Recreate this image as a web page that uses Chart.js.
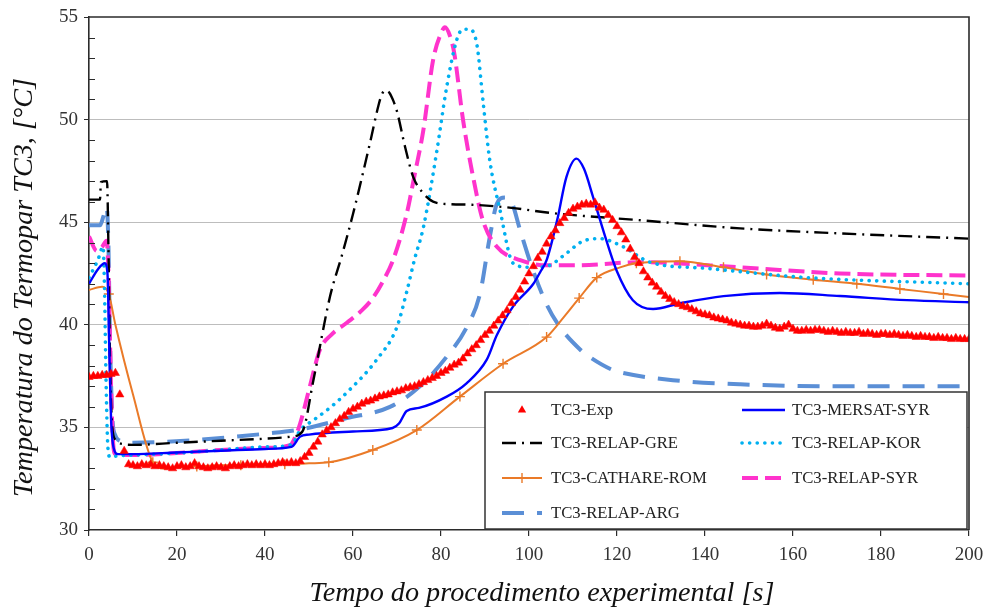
<!DOCTYPE html>
<html>
<head>
<meta charset="utf-8">
<script src="https://cdn.jsdelivr.net/npm/chart.js@4.4.1/dist/chart.umd.min.js"></script>
<style>
  html, body { margin: 0; padding: 0; background: #ffffff; }
  #wrap { width: 987px; height: 610px; position: relative; }
</style>
</head>
<body>
<div id="wrap"><canvas id="chart" width="987" height="610"></canvas></div>
<script>
// ---- Axis text ----
const xTitle = 'Tempo do procedimento experimental [s]';
const yTitle = 'Temperatura do Termopar TC3, [°C]';
const xTicks = [0, 20, 40, 60, 80, 100, 120, 140, 160, 180, 200];
const yTicks = [30, 35, 40, 45, 50, 55];

// ---- Series names ----
const seriesNames = ['TC3-Exp', 'TC3-MERSAT-SYR', 'TC3-RELAP-GRE', 'TC3-RELAP-KOR',
                     'TC3-CATHARE-ROM', 'TC3-RELAP-SYR', 'TC3-RELAP-ARG'];

// ---- Experimental thermocouple, sampled every second from t = 0 s ----
const expStep = 1;
const expTemp = [
  37.45, 37.5, 37.5, 37.55, 37.55, 37.6, 37.65, 36.6, 33.85, 33.2,
  33.15, 33.1, 33.2, 33.15, 33.2, 33.1, 33.15, 33.1, 33.05, 33.0,
  33.1, 33.15, 33.05, 33.1, 33.25, 33.1, 33.05, 33.0, 33.05, 33.1,
  33.05, 33.0, 33.1, 33.15, 33.1, 33.15, 33.2, 33.15, 33.2, 33.15,
  33.2, 33.15, 33.2, 33.25, 33.3, 33.25, 33.3, 33.25, 33.35, 33.55,
  33.75, 34.05, 34.3, 34.65, 34.85, 35.0, 35.2, 35.4, 35.55, 35.75,
  35.9, 36.0, 36.15, 36.25, 36.3, 36.4, 36.5, 36.55, 36.6, 36.7,
  36.75, 36.8, 36.9, 36.95, 37.0, 37.1, 37.2, 37.3, 37.4, 37.5,
  37.65, 37.75, 37.9, 38.05, 38.15, 38.35, 38.6, 38.8, 39.0, 39.25,
  39.5, 39.7, 39.95, 40.2, 40.45, 40.7, 41.05, 41.35, 41.7, 42.1,
  42.5, 42.85, 43.25, 43.55, 43.95, 44.3, 44.6, 44.95, 45.2, 45.45,
  45.65, 45.75, 45.85, 45.9, 45.85, 45.95, 45.7, 45.6, 45.35, 45.1,
  44.8, 44.5, 44.15, 43.7, 43.3, 43.0, 42.6, 42.3, 42.05, 41.85,
  41.6, 41.4, 41.25, 41.1, 41.0, 40.9, 40.85, 40.75, 40.65, 40.55,
  40.5, 40.45, 40.35, 40.3, 40.25, 40.2, 40.1, 40.05, 40.0, 39.95,
  39.95, 39.9, 39.9, 39.95, 40.05, 39.95, 39.85, 39.8, 39.9, 40.0,
  39.8, 39.7, 39.7, 39.75, 39.7, 39.75, 39.75, 39.7, 39.65, 39.7,
  39.65, 39.6, 39.65, 39.6, 39.6, 39.65, 39.55, 39.6, 39.55, 39.5,
  39.55, 39.55, 39.5, 39.55, 39.5, 39.45, 39.5, 39.45, 39.4, 39.45,
  39.4, 39.4, 39.35, 39.4, 39.35, 39.35, 39.3, 39.35, 39.3, 39.3,
  39.3
];

// ---- MERSAT (Syria) ----
const mersatTime = [0, 2, 3.6, 4.2, 4.6, 5.0, 5.6, 6.6, 10, 20, 30, 40, 46, 48, 50, 60, 69,
  70.5, 72.2, 75, 81.3, 85.8, 90.4, 92.7, 96.4, 101, 102.5, 104, 106.4, 108.5, 110.8, 112.5,
  114.6, 117.6, 119.9, 123.6, 128.2, 134.3, 144.2, 157, 170.7, 185.9, 200];
const mersatTemp = [42.0, 42.7, 43.0, 42.5, 39.0, 35.5, 34.0, 33.7, 33.7, 33.78, 33.86, 33.95, 34.05, 34.55, 34.65, 34.8, 34.97,
  35.2, 35.8, 35.95, 36.5, 37.15, 38.3, 39.5, 40.9, 42.0, 42.55, 43.15, 45.1, 47.2, 48.1, 47.6,
  46.2, 44.1, 42.65, 41.2, 40.77, 41.05, 41.4, 41.55, 41.4, 41.2, 41.1];

// ---- RELAP (Greece) ----
const greTime = [0, 2.5, 2.7, 4.1, 4.4, 4.8, 5.3, 6, 8, 10, 20, 30, 40, 46, 48.5, 51, 54.8, 57.5,
  60, 63.9, 65.8, 66.6, 67.4, 68.3, 69.2, 70, 71.8, 73.7, 76, 78.2, 82, 87, 96, 105, 125, 148, 171, 200];
const greTemp = [46.1, 46.1, 46.95, 47.0, 44.0, 38.0, 35.0, 34.4, 34.18, 34.15, 34.25, 34.35, 34.45, 34.55, 34.8, 37.3, 41.4, 43.4,
  45.4, 48.9, 50.7, 51.25, 51.42, 51.3, 50.9, 50.4, 48.7, 47.2, 46.4, 46.0, 45.88, 45.85, 45.7, 45.45, 45.1, 44.7, 44.45, 44.2];

// ---- RELAP (Korea) ----
const korTime = [0, 2, 3.2, 3.5, 3.9, 4.3, 4.8, 6, 10, 20, 30, 40, 46, 48, 51, 55, 58.6, 65.4,
  70, 72.2, 74, 76, 79, 81.3, 83.6, 85, 86.5, 88.2, 89.6, 91.1, 93.4, 96.4, 100.2, 104,
  108.6, 112, 116, 121.4, 127.5, 140.4, 163.2, 200];
const korTemp = [42.3, 43.15, 43.8, 42.0, 37.0, 34.0, 33.55, 33.6, 33.65, 33.75, 33.9, 34.05, 34.15, 34.87, 35.35, 36.0, 36.7, 38.3,
  39.9, 41.6, 43.2, 44.75, 48.4, 51.6, 53.9, 54.4, 54.4, 53.6, 50.8, 48.0, 45.6, 43.0, 42.8, 42.85,
  43.5, 44.05, 44.2, 43.8, 43.05, 42.75, 42.3, 42.0];

// ---- CATHARE (Romania) ----
const romTime = [0, 3, 4.5, 6, 10, 14.5, 17, 20, 24.5, 30, 34.5, 40, 44.5, 50, 54.5, 64.5, 74.5,
  84.3, 94.1, 104, 108, 111.4, 115.4, 120.7, 124.4, 134.3, 144.2, 154, 164.6, 174.5, 184.3, 194.2, 200];
const romTemp = [41.7, 41.85, 41.5, 40.0, 36.6, 33.3, 33.0, 33.05, 33.1, 33.15, 33.15, 33.2, 33.2, 33.25, 33.3, 33.9, 34.87,
  36.5, 38.1, 39.4, 40.4, 41.3, 42.3, 42.8, 43.0, 43.1, 42.8, 42.45, 42.2, 42.0, 41.75, 41.5, 41.35];
const romMarkTime = [4.5, 14.5, 24.5, 34.5, 44.5, 54.5, 64.5, 74.5, 84.3, 94.1, 104, 111.4, 115.4,
  124.4, 134.3, 144.2, 154, 164.6, 174.5, 184.3, 194.2];

// ---- RELAP (Syria) ----
const syrTime = [0, 1.8, 3, 4, 4.5, 5, 5.5, 6, 10, 20, 30, 40, 45.7, 47, 48, 50.2, 52.5, 55,
  58.6, 62, 64.5, 67, 69.1, 72.2, 74, 76, 78.2, 80, 80.9, 82, 83, 85, 87.3, 89.5, 92.7, 98,
  104, 111, 125, 148, 170.7, 200];
const syrTemp = [44.3, 43.6, 43.8, 44.1, 42.0, 37.0, 34.2, 33.7, 33.65, 33.75, 33.9, 34.0, 34.14, 34.6, 35.2, 37.0, 38.8, 39.5,
  40.1, 40.7, 41.3, 42.2, 43.15, 45.4, 47.3, 49.5, 52.9, 54.2, 54.5, 54.1, 53.25, 50.0, 47.2, 45.1, 43.8, 43.15,
  42.9, 42.9, 43.05, 42.8, 42.5, 42.4];

// ---- RELAP (Argentina) ----
const argTime = [0, 2.5, 3.3, 4, 4.4, 4.8, 5.3, 6, 6.6, 10, 25, 40.4, 48, 58.6, 68.4, 75.2, 81.3,
  85.9, 88.9, 91.1, 92.7, 94.5, 96, 98, 101, 104, 107, 111.6, 114, 119, 121.4, 132.7, 148, 170.7, 200];
const argTemp = [44.85, 44.85, 45.3, 45.75, 44.0, 39.0, 35.5, 34.6, 34.4, 34.25, 34.4, 34.7, 34.9, 35.45, 36.0, 37.0, 38.45,
  39.9, 41.55, 44.3, 45.9, 46.2, 46.0, 44.6, 42.6, 41.0, 39.9, 38.8, 38.4, 37.8, 37.65, 37.3, 37.1, 37.0, 37.0];

const pairs = (ts, vs) => ts.map((t, i) => ({ x: t, y: vs[i] }));

const serif = '"Liberation Serif", "Times New Roman", serif';
const axisColor = '#2b2b2b';

const lineBase = {
  showLine: true,
  pointRadius: 0,
  pointHoverRadius: 0,
  fill: false,
  cubicInterpolationMode: 'monotone'
};

const datasets = [
  {
    label: seriesNames[0],
    data: expTemp.map((v, i) => ({ x: i * expStep, y: v })),
    showLine: false,
    pointStyle: 'triangle',
    pointRadius: 4.8,
    pointHoverRadius: 4.8,
    pointBackgroundColor: '#ff0000',
    pointBorderColor: '#ff0000',
    pointBorderWidth: 0.5,
    borderColor: '#ff0000',
    backgroundColor: '#ff0000'
  },
  Object.assign({}, lineBase, {
    label: seriesNames[1],
    data: pairs(mersatTime, mersatTemp),
    borderColor: '#0000ff',
    borderWidth: 2.4
  }),
  Object.assign({}, lineBase, {
    label: seriesNames[2],
    data: pairs(greTime, greTemp),
    borderColor: '#000000',
    borderWidth: 2.4,
    borderDash: [14, 6, 2, 6]
  }),
  Object.assign({}, lineBase, {
    label: seriesNames[3],
    data: pairs(korTime, korTemp),
    borderColor: '#00b0f0',
    borderWidth: 3.6,
    borderCapStyle: 'round',
    borderDash: [0.1, 7.5]
  }),
  Object.assign({}, lineBase, {
    label: seriesNames[4],
    data: pairs(romTime, romTemp),
    borderColor: '#ea7a28',
    borderWidth: 2,
    pointStyle: 'cross',
    pointRadius: (c) => (c.raw && romMarkTime.includes(c.raw.x)) ? 5 : 0,
    pointBorderColor: '#ea7a28',
    pointBorderWidth: 1.4
  }),
  Object.assign({}, lineBase, {
    label: seriesNames[5],
    data: pairs(syrTime, syrTemp),
    borderColor: '#ff33cc',
    borderWidth: 4,
    borderDash: [16, 7]
  }),
  Object.assign({}, lineBase, {
    label: seriesNames[6],
    data: pairs(argTime, argTemp),
    borderColor: '#5b8fd6',
    borderWidth: 4,
    borderDash: [22, 13]
  })
];

// Small inward minor ticks on the temperature axis, plus the top and right frame lines
const framePlugin = {
  id: 'frame',
  afterDraw(chart) {
    const { ctx, chartArea: a, scales: { y } } = chart;
    ctx.save();
    ctx.strokeStyle = axisColor;
    ctx.lineWidth = 1.2;
    ctx.beginPath();
    for (let v = y.min + 1; v < y.max; v++) {
      if (v % 5 === 0) continue;
      const py = Math.round(y.getPixelForValue(v)) + 0.5;
      ctx.moveTo(a.left, py);
      ctx.lineTo(a.left + 6, py);
    }
    ctx.stroke();
    ctx.lineWidth = 1.6;
    ctx.beginPath();
    ctx.moveTo(a.left, a.top);
    ctx.lineTo(a.right, a.top);
    ctx.lineTo(a.right, a.bottom);
    ctx.stroke();
    ctx.restore();
  }
};

// Italic axis titles
const titlePlugin = {
  id: 'axisTitles',
  afterDraw(chart) {
    const { ctx, chartArea: a } = chart;
    ctx.save();
    ctx.fillStyle = '#111';
    let size = 24;
    ctx.font = `italic ${size}px ${serif}`;
    size = size * 465 / ctx.measureText(xTitle).width;
    ctx.font = `italic ${size}px ${serif}`;
    ctx.textAlign = 'center';
    ctx.textBaseline = 'alphabetic';
    ctx.fillText(xTitle, (a.left + a.right) / 2 + 13, a.bottom + 71);
    ctx.translate(32, (a.top + a.bottom) / 2 + 14);
    ctx.rotate(-Math.PI / 2);
    ctx.fillText(yTitle, 0, 0);
    ctx.restore();
  }
};

// Boxed legend in the lower right corner of the plot
const legendPlugin = {
  id: 'boxLegend',
  afterDatasetsDraw(chart) {
    const { ctx, chartArea: a } = chart;
    const bw = 482, bh = 137;
    const bx = a.right - bw - 2, by = a.bottom - bh - 1;
    ctx.save();
    ctx.fillStyle = '#ffffff';
    ctx.fillRect(bx, by, bw, bh);
    ctx.strokeStyle = '#333';
    ctx.lineWidth = 1.5;
    ctx.strokeRect(bx, by, bw, bh);

    const layout = [[0, 0, 0], [1, 1, 0], [2, 0, 1], [3, 1, 1], [4, 0, 2], [5, 1, 2], [6, 0, 3]];
    const cols = [{ s: 17, e: 57, t: 66 }, { s: 257, e: 300, t: 307 }];
    const rows = [18, 51, 86, 121];
    ctx.font = `16.7px ${serif}`;
    ctx.textBaseline = 'middle';
    ctx.textAlign = 'left';
    layout.forEach(([di, c, r]) => {
      const ds = chart.data.datasets[di];
      const col = cols[c];
      const yy = by + rows[r];
      const x0 = bx + col.s, x1 = bx + col.e;
      if (ds.showLine === false) {
        const cx = (x0 + x1) / 2;
        ctx.fillStyle = ds.pointBackgroundColor;
        const rr = ds.pointRadius;
        ctx.beginPath();
        ctx.moveTo(cx, yy - rr);
        ctx.lineTo(cx + rr * 0.866, yy + rr * 0.5);
        ctx.lineTo(cx - rr * 0.866, yy + rr * 0.5);
        ctx.closePath();
        ctx.fill();
      } else {
        ctx.save();
        ctx.strokeStyle = ds.borderColor;
        ctx.lineWidth = ds.borderWidth;
        ctx.lineCap = ds.borderCapStyle || 'butt';
        ctx.setLineDash(ds.borderDash || []);
        ctx.beginPath();
        ctx.moveTo(x0, yy);
        ctx.lineTo(x1, yy);
        ctx.stroke();
        ctx.restore();
        if (ds.pointStyle === 'cross') {
          const cx = (x0 + x1) / 2;
          ctx.save();
          ctx.strokeStyle = ds.pointBorderColor;
          ctx.lineWidth = ds.pointBorderWidth;
          ctx.beginPath();
          ctx.moveTo(cx - 5, yy); ctx.lineTo(cx + 5, yy);
          ctx.moveTo(cx, yy - 5); ctx.lineTo(cx, yy + 5);
          ctx.stroke();
          ctx.restore();
        }
      }
      ctx.fillStyle = '#222';
      ctx.fillText(ds.label, bx + col.t, yy + 1);
    });
    ctx.restore();
  }
};

new Chart(document.getElementById('chart'), {
  type: 'scatter',
  data: { datasets },
  plugins: [framePlugin, legendPlugin, titlePlugin],
  options: {
    responsive: false,
    animation: false,
    devicePixelRatio: 1,
    layout: { padding: { top: 17, right: 18, left: 0, bottom: 0 } },
    plugins: { legend: { display: false }, tooltip: { enabled: false } },
    scales: {
      x: {
        type: 'linear',
        min: xTicks[0],
        max: xTicks[xTicks.length - 1],
        afterBuildTicks: (s) => { s.ticks = xTicks.map(v => ({ value: v })); },
        afterFit: (s) => { s.height = 80; s.paddingLeft = 0; s.paddingRight = 0; },
        ticks: { color: '#333', font: { family: serif, size: 19 }, padding: 8, maxRotation: 0 },
        grid: { drawOnChartArea: false, drawTicks: true, tickLength: 6, color: axisColor, lineWidth: 1.2 },
        border: { color: axisColor, width: 1.6 }
      },
      y: {
        min: yTicks[0],
        max: yTicks[yTicks.length - 1],
        afterBuildTicks: (s) => { s.ticks = yTicks.map(v => ({ value: v })); },
        afterFit: (s) => { s.width = 89; s.paddingTop = 0; s.paddingBottom = 0; },
        ticks: { color: '#333', font: { family: serif, size: 19 }, padding: 6 },
        grid: {
          color: (c) => (c.tick && (c.tick.value === yTicks[0] || c.tick.value === yTicks[yTicks.length - 1])) ? 'rgba(0,0,0,0)' : '#bdbdbd',
          tickColor: axisColor,
          tickLength: 5,
          lineWidth: 1
        },
        border: { color: axisColor, width: 1.6 }
      }
    }
  }
});
</script>
</body>
</html>
